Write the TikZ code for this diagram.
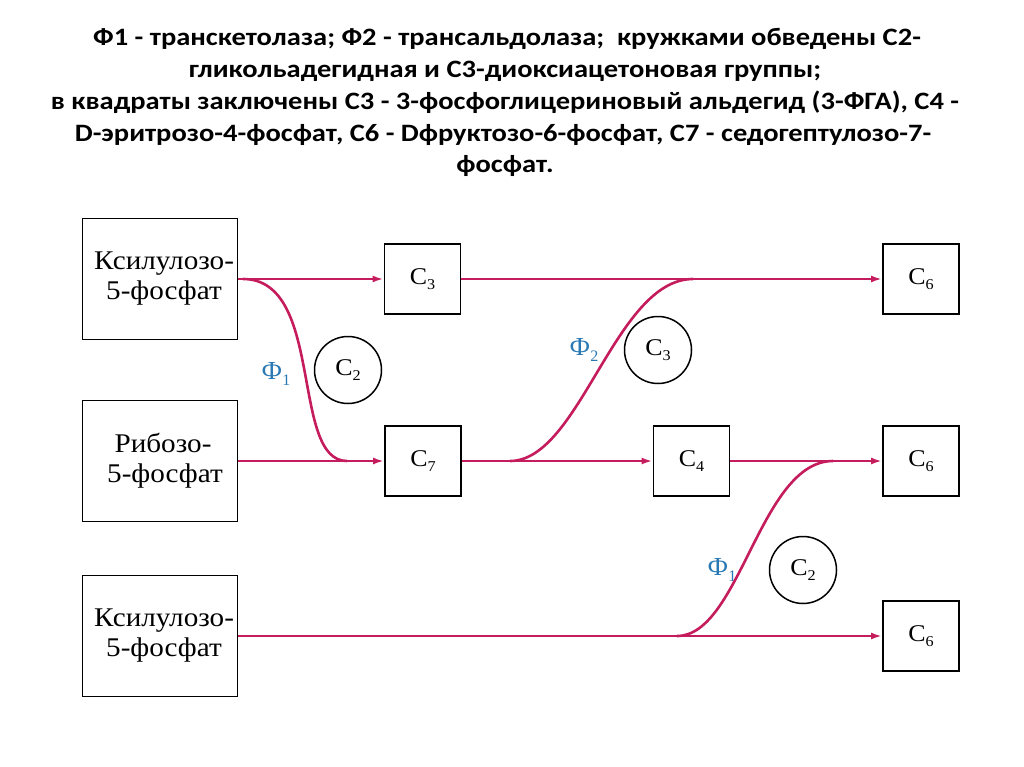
\documentclass[tikz,border=0pt]{standalone}
\usepackage{fontspec}
\setmainfont{Liberation Serif}
\newfontfamily\titlefont[FakeStretch=1.14]{Carlito}
\newfontfamily\boxfont[FakeStretch=1.08]{Liberation Serif}
\usetikzlibrary{arrows.meta}
\definecolor{flow}{RGB}{196,28,92}
\definecolor{enz}{RGB}{40,120,180}
\tikzset{
  ttl/.style={font=\titlefont\bfseries\fontsize{25}{30}\selectfont, anchor=base, inner sep=0pt},
  bigbox/.style={draw, line width=1.8pt, minimum width=155pt, minimum height=121pt, inner sep=0pt, align=center, font=\boxfont\fontsize{27}{30}\selectfont},
  cbox/.style={draw, line width=1.8pt, minimum width=76pt, minimum height=70pt, inner sep=0pt, font=\boxfont\fontsize{24}{26}\selectfont},
  grp/.style={draw, circle, line width=1.5pt, minimum size=67pt, inner sep=0pt, font=\boxfont\fontsize{24}{26}\selectfont},
  flowline/.style={draw=flow, line width=2.6pt},
  arr/.style={flowline, -{Latex[length=11pt,width=7pt]}},
  enzlab/.style={text=enz, font=\fontsize{26}{28}\selectfont, inner sep=0pt}
}
\newcommand{\Csub}[1]{C\raisebox{-0.5ex}{\fontsize{15}{16}\selectfont #1}}
\newcommand{\Fsub}[1]{Ф\raisebox{-0.45ex}{\fontsize{16}{16}\selectfont #1}}
\begin{document}
\begin{tikzpicture}[x=1pt,y=-1pt]
\useasboundingbox (0,0) rectangle (1024,767);
% title
\node[ttl] (t1) at (507,46) {Ф1 - транскетолаза; Ф2 - трансальдолаза;\ \ кружками обведены С2-};
\node[ttl] (t2) at (505,78) {гликольадегидная и С3-диоксиацетоновая группы;};
\node[ttl] (t3) at (505,110) {в квадраты заключены С3 - 3-фосфоглицериновый альдегид (3-ФГА), С4 -};
\node[ttl] (t4) at (503,142) {D-эритрозо-4-фосфат, С6 - Dфруктозо-6-фосфат, С7 - седогептулозо-7-};
\node[ttl] (t5) at (505,173) {фосфат.};
% boxes
\node[bigbox] (xa) at (160,279) {\hspace*{8pt}Ксилулозо-\\\hspace*{8pt}5-фосфат};
\node[bigbox] (rib) at (160,461) {\hspace*{6pt}Рибозо-\\\hspace*{10pt}5-фосфат};
\node[bigbox] (xb) at (160,636) {\hspace*{8pt}Ксилулозо-\\\hspace*{8pt}5-фосфат};
\node[cbox] (c3) at (422.5,279) {\Csub{3}};
\node[cbox] (c7) at (423,461) {\Csub{7}};
\node[cbox] (c4) at (691.5,461) {\Csub{4}};
\node[cbox] (c6a) at (921,279) {\Csub{6}};
\node[cbox] (c6b) at (921,461) {\Csub{6}};
\node[cbox] (c6c) at (921,636) {\Csub{6}};
% group circles
\node[grp] (g2a) at (348,370) {\Csub{2}};
\node[grp] (g3) at (658,350) {\Csub{3}};
\node[grp] (g2b) at (803,570) {\Csub{2}};
% enzyme labels
\node[enzlab] (f1a) at (276,374) {\Fsub{1}};
\node[enzlab] (f2) at (584,350) {\Fsub{2}};
\node[enzlab] (f1b) at (722,570) {\Fsub{1}};
% branch points
\coordinate (b1s) at (243,279);
\coordinate (b1e) at (347,461);
\coordinate (b2s) at (510,461);
\coordinate (b2e) at (693,279);
\coordinate (b3s) at (677,636);
\coordinate (b3e) at (833,461);
% straight flows
\draw[arr] (xa.east) -- (c3.west);
\draw[arr] (c3.east) -- (c6a.west);
\draw[arr] (rib.east) -- (c7.west);
\draw[arr] (c7.east) -- (c4.west);
\draw[arr] (c4.east) -- (c6b.west);
\draw[arr] (xb.east) -- (c6c.west);
% transfer curves
\draw[flowline] (b1s) .. controls (325,279) and (290,461) .. (b1e);
\draw[flowline] (b2s) .. controls (580,461) and (615,279) .. (b2e);
\draw[flowline] (b3s) .. controls (740,636) and (760,461) .. (b3e);
\end{tikzpicture}
\end{document}
